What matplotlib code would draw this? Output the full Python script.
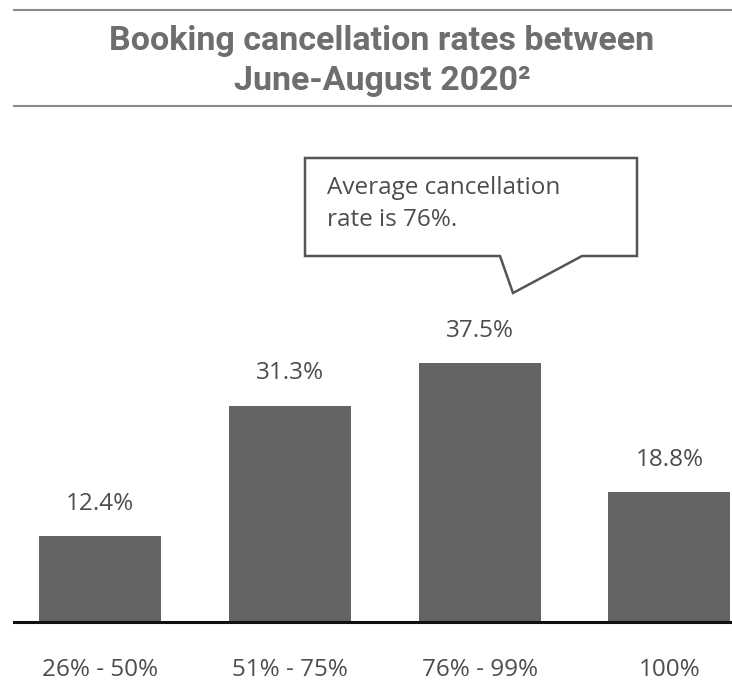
import matplotlib.pyplot as plt
from matplotlib.patches import Polygon
from matplotlib.lines import Line2D

categorias = ['26% - 50%', '51% - 75%', '76% - 99%', '100%']
valores = [12.4, 31.3, 37.5, 18.8]
etiquetas = ['12.4%', '31.3%', '37.5%', '18.8%']

W, H = 732, 683
def fx(px):
    return px / W
def fy(py):
    return 1 - py / H

fig = plt.figure(figsize=(7.32, 6.83), dpi=100)
ax = fig.add_axes([fx(14), fy(622), fx(732) - fx(14), fy(130) - fy(622)])

x = range(len(valores))
ax.bar(x, valores, width=0.643, color='#636466')
for i, v in enumerate(valores):
    ax.text(i, v + 3.0, etiquetas[i], ha='center', va='bottom',
            fontsize=17.5, color='#4d4d4d', family='Open Sans')

ax.set_xlim(-0.453, 3.33)
ax.set_ylim(0, 71.3)
for s in ['top', 'right', 'left']:
    ax.spines[s].set_visible(False)
ax.spines['bottom'].set_linewidth(2.2)
ax.spines['bottom'].set_color('#111111')
ax.set_yticks([])
ax.set_xticks(list(x))
ax.set_xticklabels(categorias, fontsize=17.5, color='#4d4d4d', family='Open Sans')
ax.tick_params(axis='x', length=0, pad=26)

# titulo y lineas
titulo_color = '#6d6e70'
fig.text(fx(382), fy(41), 'Booking cancellation rates between', ha='center', va='center',
         fontsize=24.5, fontweight='bold', color=titulo_color, family='Roboto')
fig.text(fx(382), fy(81), 'June-August 2020²', ha='center', va='center',
         fontsize=24.5, fontweight='bold', color=titulo_color, family='Roboto')
fig.add_artist(Line2D([fx(14), fx(732)], [fy(10), fy(10)], color='#8a8a8a', lw=1.5))
fig.add_artist(Line2D([fx(14), fx(732)], [fy(106), fy(106)], color='#8a8a8a', lw=1.5))

# globo
globo = [(305, 158), (637, 158), (637, 256), (582, 256), (513, 293), (500, 256), (305, 256)]
fig.add_artist(Polygon([(fx(a), fy(b)) for a, b in globo], closed=True,
                       facecolor='white', edgecolor='#555555', lw=1.8))
fig.text(fx(327), fy(188), 'Average cancellation', ha='left', va='center',
         fontsize=17.5, color='#4d4d4d', family='Open Sans')
fig.text(fx(327), fy(220), 'rate is 76%.', ha='left', va='center',
         fontsize=17.5, color='#4d4d4d', family='Open Sans')

fig.savefig('out.png', dpi=100)
